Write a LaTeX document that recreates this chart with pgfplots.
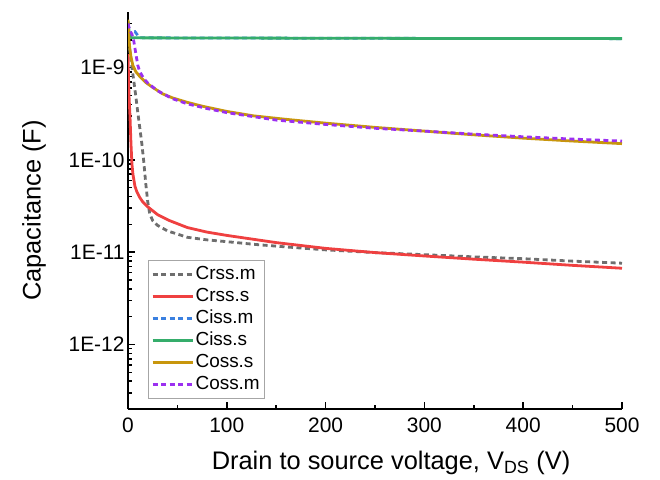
\documentclass[border=0pt]{standalone}
\usepackage{fontspec}
\setmainfont{Liberation Sans}
\usepackage{pgfplots}
\pgfplotsset{compat=1.18}
\definecolor{cgray}{HTML}{6E6E6E}
\definecolor{cred}{HTML}{EF4040}
\definecolor{cblue}{HTML}{3A80E0}
\definecolor{cgreen}{HTML}{35AD6B}
\definecolor{cgold}{HTML}{C8960C}
\definecolor{cpurple}{HTML}{9B30F0}
\begin{document}
\begin{tikzpicture}
\useasboundingbox (0,0) rectangle (660bp,480bp);
\begin{axis}[
  at={(128bp,71bp)}, anchor=south west,
  scale only axis, width=494bp, height=397bp,
  xmin=0, xmax=500, ymode=log, ymin=2e-13, ymax=4e-9,
  axis x line*=bottom, axis y line*=left,
  xtick={0,100,200,300,400,500}, minor xtick={50,150,250,350,450},
  ytick={1e-12,1e-11,1e-10,1e-9}, yticklabels={1E-12,1E-11,1E-10,1E-9},
  minor ytick={3e-13,4e-13,5e-13,6e-13,7e-13,8e-13,9e-13,
    2e-12,3e-12,4e-12,5e-12,6e-12,7e-12,8e-12,9e-12,
    2e-11,3e-11,4e-11,5e-11,6e-11,7e-11,8e-11,9e-11,
    2e-10,3e-10,4e-10,5e-10,6e-10,7e-10,8e-10,9e-10,2e-9,3e-9},
  tick align=inside,
  major tick length=7bp, minor tick length=4bp,
  axis line style={line width=2bp},
  every tick/.style={line width=1.5bp, black},
  tick label style={font=\fontsize{21}{24}\selectfont},
  label style={font=\fontsize{25.5}{28}\selectfont},
  xticklabel shift=5bp,
  xlabel shift=12bp,
  ylabel shift=16bp,
  xlabel style={xshift=16bp},
  /pgf/number format/assume math mode=true,
  xlabel={Drain to source voltage, V\textsubscript{DS} (V)},
  ylabel={Capacitance (F)},
  legend cell align=left,
  legend style={at={(0.0405,0.375)}, anchor=north west, draw=gray!70, line width=0.6bp,
    font=\fontsize{19}{20}\selectfont, inner sep=3bp, row sep=0bp,
    nodes={inner sep=1.5bp, text height=15bp, text depth=4bp}},
  legend image code/.code={\draw[#1] (0bp,0bp) -- (40bp,0bp);},
]
% Crss.m
\addplot[cgray, line width=2.8bp, dash pattern=on 5bp off 3.5bp] coordinates {
(0,2e-9) (2,1.5e-9) (4,1.0e-9) (6,7e-10) (8,4.8e-10) (10,3.2e-10) (12,2.2e-10)
(14,1.5e-10) (16,9.5e-11) (18,5.5e-11) (20,3.5e-11) (22,2.6e-11) (25,2.2e-11)
(30,1.95e-11) (40,1.7e-11) (60,1.45e-11) (80,1.36e-11) (100,1.3e-11) (130,1.21e-11)
(160,1.14e-11) (200,1.06e-11) (250,9.9e-12) (300,9.4e-12) (350,8.9e-12)
(400,8.5e-12) (450,8.0e-12) (500,7.6e-12)};
\addlegendentry{Crss.m}
% Crss.s
\addplot[cred, line width=2.8bp] coordinates {
(0,1.4e-9) (0.5,8e-10) (1,5e-10) (2,3e-10) (3,1.5e-10) (4,9e-11) (5,7e-11)
(7,5.2e-11) (9,4.5e-11) (12,3.9e-11) (15,3.5e-11) (20,3.1e-11) (30,2.55e-11)
(42,2.2e-11) (60,1.85e-11) (80,1.65e-11) (100,1.52e-11) (150,1.27e-11)
(200,1.1e-11) (250,9.9e-12) (300,9.1e-12) (350,8.4e-12) (400,7.8e-12)
(450,7.2e-12) (500,6.7e-12)};
\addlegendentry{Crss.s}
% Ciss.m
\addplot[cblue, line width=2.8bp, dash pattern=on 5bp off 3.5bp] coordinates {
(0,3.0e-9) (1,2.6e-9) (2,2.3e-9) (3,2.25e-9) (5,2.4e-9) (7,2.45e-9) (9,2.3e-9)
(11,2.15e-9) (13,2.1e-9) (20,2.1e-9) (100,2.09e-9) (300,2.07e-9) (500,2.06e-9)};
\addlegendentry{Ciss.m}
% Ciss.s
\addplot[cgreen, line width=2.8bp] coordinates {
(0,3.2e-9) (1,2.5e-9) (2,2.2e-9) (3,2.12e-9) (5,2.1e-9) (10,2.1e-9)
(100,2.09e-9) (300,2.07e-9) (500,2.06e-9)};
\addlegendentry{Ciss.s}
% Coss.s
\addplot[cgold, line width=2.8bp] coordinates {
(0,3.3e-9) (0.5,2.6e-9) (1,2.0e-9) (2,1.55e-9) (3,1.3e-9) (5,1.05e-9) (8,9e-10)
(12,8e-10) (18,6.9e-10) (25,6.1e-10) (35,5.2e-10) (45,4.7e-10) (60,4.2e-10)
(76,3.8e-10) (100,3.35e-10) (127,3.0e-10) (160,2.75e-10) (200,2.5e-10)
(250,2.25e-10) (300,2.05e-10) (350,1.87e-10) (400,1.72e-10) (450,1.6e-10)
(500,1.5e-10)};
\addlegendentry{Coss.s}
% Coss.m
\addplot[cpurple, line width=2.8bp, dash pattern=on 5bp off 3.5bp] coordinates {
(0,3.0e-9) (2,2.5e-9) (4,2.3e-9) (6,1.9e-9) (8,1.4e-9) (10,1.05e-9) (12,9e-10)
(16,7.6e-10) (20,6.8e-10) (30,5.6e-10) (45,4.6e-10) (60,4.05e-10) (80,3.6e-10)
(100,3.25e-10) (150,2.7e-10) (200,2.42e-10) (250,2.2e-10) (300,2.05e-10)
(350,1.9e-10) (400,1.78e-10) (450,1.68e-10) (500,1.6e-10)};
\addlegendentry{Coss.m}
\end{axis}
\end{tikzpicture}
\end{document}
